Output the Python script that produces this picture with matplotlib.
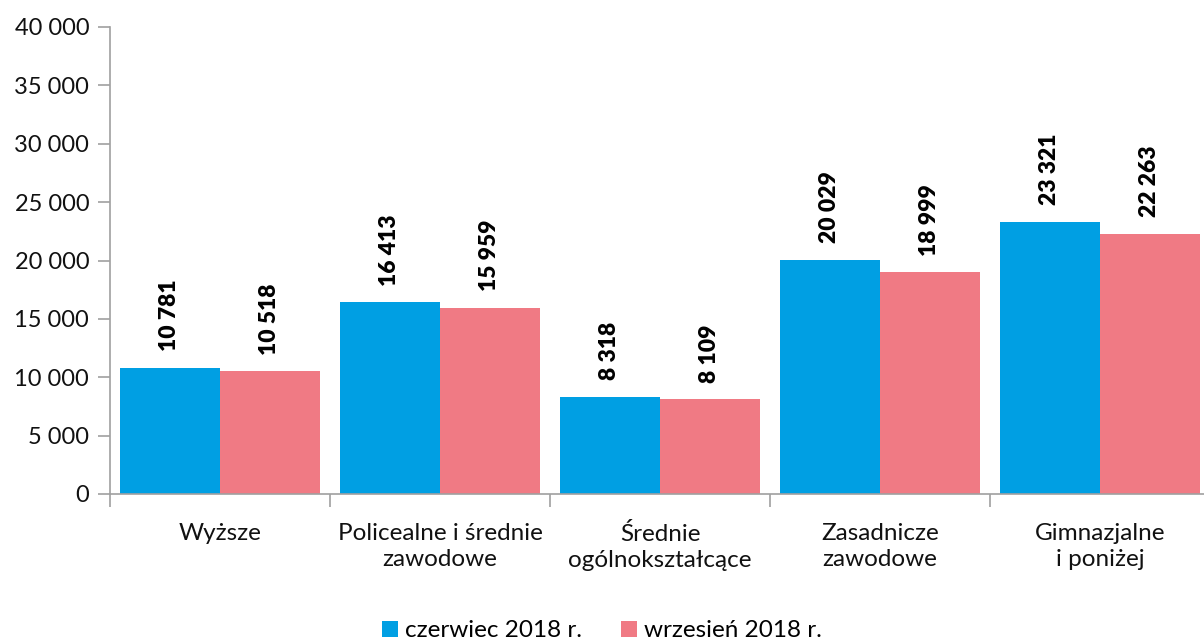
import numpy as np
import matplotlib.pyplot as plt

plt.rcParams['font.family'] = ['Lato', 'DejaVu Sans']

categories = ["Wyższe", "Policealne i średnie\nzawodowe", "Średnie\nogólnokształcące",
              "Zasadnicze\nzawodowe", "Gimnazjalne\ni poniżej"]
czerwiec = [10781, 16413, 8318, 20029, 23321]
wrzesien = [10518, 15959, 8109, 18999, 22263]
series_names = ["czerwiec 2018 r.", "wrzesień 2018 r."]
colors = ["#009FE3", "#F07A84"]


def fmt(v):
    return "{:,}".format(int(v)).replace(",", " ")


fig = plt.figure(figsize=(12.04, 6.42), dpi=100)
# axes from x=110 to ~1210 px, y from 494 to 27 px
ax = fig.add_axes([110 / 1204, 1 - 494 / 642, 1100 / 1204, (494 - 27) / 642])

x = np.arange(len(categories))
w = 100 / 220
b1 = ax.bar(x - w / 2, czerwiec, w, color=colors[0], label=series_names[0], linewidth=0)
b2 = ax.bar(x + w / 2, wrzesien, w, color=colors[1], label=series_names[1], linewidth=0)

for bars, vals in [(b1, czerwiec), (b2, wrzesien)]:
    for r, v in zip(bars, vals):
        ax.annotate(fmt(v), (r.get_x() + r.get_width() / 2, v), xytext=(0, 12),
                    textcoords='offset points', rotation=90, ha='center', va='bottom',
                    fontsize=16.5, fontweight='heavy', color='black')

ax.set_xlim(-0.5, len(categories) - 0.5)
ax.set_ylim(0, 40000)
ax.set_yticks(np.arange(0, 40001, 5000))
ax.set_yticklabels([fmt(v) for v in np.arange(0, 40001, 5000)], fontsize=17, color='#111111')

ax.set_xticks(np.arange(-0.5, len(categories) - 0.4, 1))
ax.set_xticklabels([])
ax.set_xticks(x, minor=True)
ax.set_xticklabels(categories, minor=True, fontsize=17.5, color='#111111', linespacing=1.3)
ax.tick_params(axis='x', which='minor', length=0, pad=21)
ax.tick_params(axis='x', which='major', length=9, color='#a0a0a0', width=1.2)
ax.tick_params(axis='y', length=9, color='#a0a0a0', width=1.2, pad=6)

for s in ['top', 'right']:
    ax.spines[s].set_visible(False)
for s in ['left', 'bottom']:
    ax.spines[s].set_color('#a0a0a0')
    ax.spines[s].set_linewidth(1.2)

fig.legend(handles=[b1, b2], loc='lower center', bbox_to_anchor=(0.5, -0.033), ncol=2,
           frameon=False, fontsize=17.5, handlelength=0.65, handleheight=0.65,
           handletextpad=0.3, columnspacing=1.6)

fig.savefig('out.png', dpi=100)
